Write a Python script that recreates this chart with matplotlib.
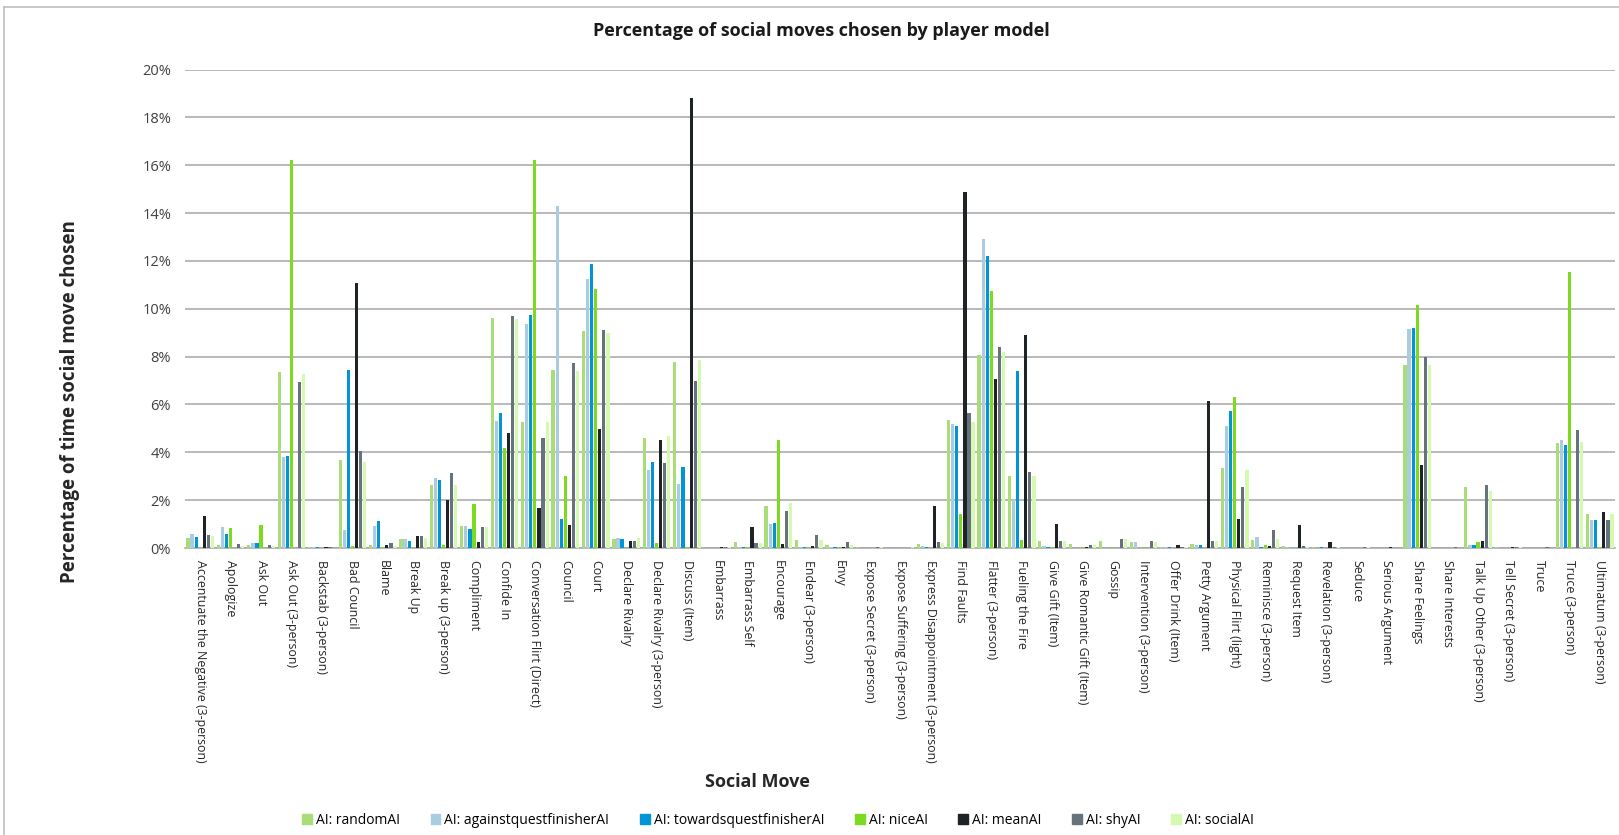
import matplotlib
matplotlib.use("Agg")
import matplotlib.pyplot as plt
import numpy as np
from matplotlib.lines import Line2D
from matplotlib import font_manager

available = {f.name for f in font_manager.fontManager.ttflist}
body_font = "Open Sans" if "Open Sans" in available else "DejaVu Sans"
title_font = "Liberation Sans Narrow" if "Liberation Sans Narrow" in available else body_font

moves = [
    "Accentuate the Negative (3-person)", "Apologize", "Ask Out", "Ask Out (3-person)",
    "Backstab (3-person)", "Bad Council", "Blame", "Break Up", "Break up (3-person)",
    "Compliment", "Confide In", "Conversation Flirt (Direct)", "Council", "Court",
    "Declare Rivalry", "Declare Rivalry (3-person)", "Discuss (Item)", "Embarrass",
    "Embarrass Self", "Encourage", "Endear (3-person)", "Envy", "Expose Secret (3-person)",
    "Expose Suffering (3-person)", "Express Disappointment (3-person)", "Find Faults",
    "Flatter (3-person)", "Fueling the Fire", "Give Gift (Item)", "Give Romantic Gift (Item)",
    "Gossip", "Intervention (3-person)", "Offer Drink (Item)", "Petty Argument",
    "Physical Flirt (light)", "Reminisce (3-person)", "Request Item", "Revelation (3-person)",
    "Seduce", "Serious Argument", "Share Feelings", "Share Interests",
    "Talk Up Other (3-person)", "Tell Secret (3-person)", "Truce", "Truce (3-person)",
    "Ultimatum (3-person)",
]

random_ai = [0.42, 0.11, 0.14, 7.35, 0.05, 3.69, 0.12, 0.38, 2.64, 0.93, 9.62, 5.25, 7.42, 9.07,
             0.38, 4.61, 7.78, 0.00, 0.26, 1.75, 0.35, 0.12, 0.04, 0.00, 0.18, 5.34, 8.07, 3.02,
             0.31, 0.15, 0.31, 0.24, 0.05, 0.18, 3.35, 0.35, 0.08, 0.04, 0.00, 0.00, 7.65, 0.00,
             2.53, 0.05, 0.00, 4.38, 1.43]
against_ai = [0.60, 0.89, 0.22, 3.79, 0.05, 0.77, 0.90, 0.38, 2.94, 0.90, 5.29, 9.38, 14.28, 11.23,
              0.42, 3.24, 2.69, 0.00, 0.05, 0.99, 0.05, 0.05, 0.00, 0.00, 0.07, 5.19, 12.90, 2.00,
              0.08, 0.00, 0.00, 0.24, 0.05, 0.12, 5.12, 0.46, 0.05, 0.00, 0.00, 0.00, 9.17, 0.00,
              0.12, 0.00, 0.00, 4.50, 1.18]
towards_ai = [0.46, 0.60, 0.22, 3.83, 0.05, 7.46, 1.13, 0.30, 2.83, 0.79, 5.65, 9.74, 1.22, 11.87,
              0.38, 3.60, 3.40, 0.00, 0.05, 1.06, 0.05, 0.05, 0.00, 0.00, 0.05, 5.08, 12.19, 7.39,
              0.05, 0.00, 0.00, 0.00, 0.05, 0.14, 5.72, 0.05, 0.00, 0.05, 0.00, 0.00, 9.21, 0.00,
              0.12, 0.00, 0.00, 4.30, 1.16]
nice_ai = [0.00, 0.85, 0.97, 16.21, 0.00, 0.07, 0.05, 0.05, 0.14, 1.82, 4.20, 16.21, 3.02, 10.83,
           0.05, 0.22, 0.05, 0.00, 0.05, 4.50, 0.05, 0.05, 0.00, 0.00, 0.00, 1.43, 10.76, 0.35,
           0.05, 0.05, 0.05, 0.05, 0.00, 0.00, 6.33, 0.12, 0.00, 0.00, 0.00, 0.00, 10.16, 0.00,
           0.24, 0.00, 0.00, 11.54, 0.05]
mean_ai = [1.35, 0.00, 0.00, 0.00, 0.05, 11.06, 0.12, 0.49, 1.99, 0.24, 4.79, 1.67, 0.97, 4.98,
           0.28, 4.50, 18.79, 0.05, 0.86, 0.17, 0.08, 0.05, 0.00, 0.00, 1.75, 14.86, 7.08, 8.89,
           1.02, 0.05, 0.00, 0.00, 0.12, 6.15, 1.22, 0.08, 0.95, 0.24, 0.00, 0.05, 3.47, 0.00,
           0.31, 0.05, 0.00, 0.00, 1.50]
shy_ai = [0.56, 0.17, 0.12, 6.95, 0.05, 4.06, 0.19, 0.49, 3.13, 0.86, 9.69, 4.61, 7.75, 9.12,
          0.30, 3.56, 6.99, 0.05, 0.19, 1.53, 0.53, 0.24, 0.05, 0.00, 0.24, 5.64, 8.42, 3.19,
          0.31, 0.11, 0.38, 0.31, 0.05, 0.28, 2.53, 0.75, 0.08, 0.05, 0.05, 0.00, 8.00, 0.05,
          2.64, 0.05, 0.05, 4.94, 1.18]
social_ai = [0.49, 0.08, 0.07, 7.27, 0.00, 3.60, 0.10, 0.40, 2.62, 0.89, 9.58, 5.25, 7.38, 9.00,
             0.42, 4.68, 7.86, 0.03, 0.22, 1.86, 0.35, 0.12, 0.05, 0.04, 0.22, 5.27, 8.18, 2.99,
             0.31, 0.14, 0.38, 0.24, 0.05, 0.31, 3.27, 0.38, 0.05, 0.04, 0.04, 0.00, 7.65, 0.00,
             2.38, 0.03, 0.00, 4.41, 1.43]

series_names = ["AI: randomAI", "AI: againstquestfinisherAI", "AI: towardsquestfinisherAI",
                "AI: niceAI", "AI: meanAI", "AI: shyAI", "AI: socialAI"]
series_values = [random_ai, against_ai, towards_ai, nice_ai, mean_ai, shy_ai, social_ai]
series_colors = ["#A8DD78", "#A9CCE3", "#0096D6", "#7DDB1F", "#1E2326", "#67737C", "#D4FAB0"]

y_ticks = [0, 2, 4, 6, 8, 10, 12, 14, 16, 18, 20]

fig = plt.figure(figsize=(16.19, 8.35), dpi=100)
ax = fig.add_axes([185 / 1619, 287 / 835, 1430 / 1619, 478.5 / 835])

x = np.arange(len(moves))
slot = 0.134
bar_w = 0.105
n = len(series_names)
for i, (vals, color) in enumerate(zip(series_values, series_colors)):
    offs = (i - (n - 1) / 2) * slot
    ax.bar(x + offs, np.array(vals) / 100.0, width=bar_w, color=color, zorder=3)

ax.set_xlim(-0.5, len(moves) - 0.5)
ax.set_ylim(0, 0.20)
ax.set_yticks([t / 100 for t in y_ticks])
ax.set_yticklabels([f"{t}%" for t in y_ticks], fontsize=10.5, color="#404040", family=body_font)
ax.grid(axis="y", color="#A6A6A6", linewidth=1.1, zorder=0)
for s in ["top", "right", "left"]:
    ax.spines[s].set_visible(False)
ax.spines["bottom"].set_color("#A6A6A6")
ax.spines["bottom"].set_linewidth(1.1)
ax.tick_params(axis="y", length=0, pad=10)
ax.tick_params(axis="x", length=0, pad=9)
ax.set_xticks(x)
ax.set_xticklabels(moves, rotation=-90, fontsize=8.9, color="#262626", family=body_font,
                   va="top", ha="center")

fig.text(70 / 1619, 1 - 402 / 835, "Percentage of time social move chosen", rotation=90,
         ha="center", va="center", fontsize=13.5, fontweight="bold", family=body_font,
         color="#262626")
fig.text(821 / 1619, 1 - 31 / 835, "Percentage of social moves chosen by player model",
         ha="center", va="center", fontsize=13, fontweight="bold", family=title_font,
         color="#1A1A1A")
fig.text(757 / 1619, 1 - 782 / 835, "Social Move", ha="center", va="center", fontsize=13,
         fontweight="bold", family=body_font, color="#262626")

handles = [plt.Rectangle((0, 0), 1, 1, color=c) for c in series_colors]
fig.legend(handles, series_names, loc="center", bbox_to_anchor=(778 / 1619, 1 - 820 / 835),
           ncol=7, frameon=False, handlelength=0.7, handleheight=0.7,
           handletextpad=0.3, columnspacing=2.2, prop={"family": body_font, "size": 10})

# chart frame
fig.add_artist(Line2D([4 / 1619, 4 / 1619], [0, 1 - 7 / 835], transform=fig.transFigure,
                      color="#BFBFBF", linewidth=1.2))
fig.add_artist(Line2D([4 / 1619, 1], [1 - 7 / 835, 1 - 7 / 835], transform=fig.transFigure,
                      color="#BFBFBF", linewidth=1.2))

fig.savefig("out.png", dpi=100, facecolor="white")
